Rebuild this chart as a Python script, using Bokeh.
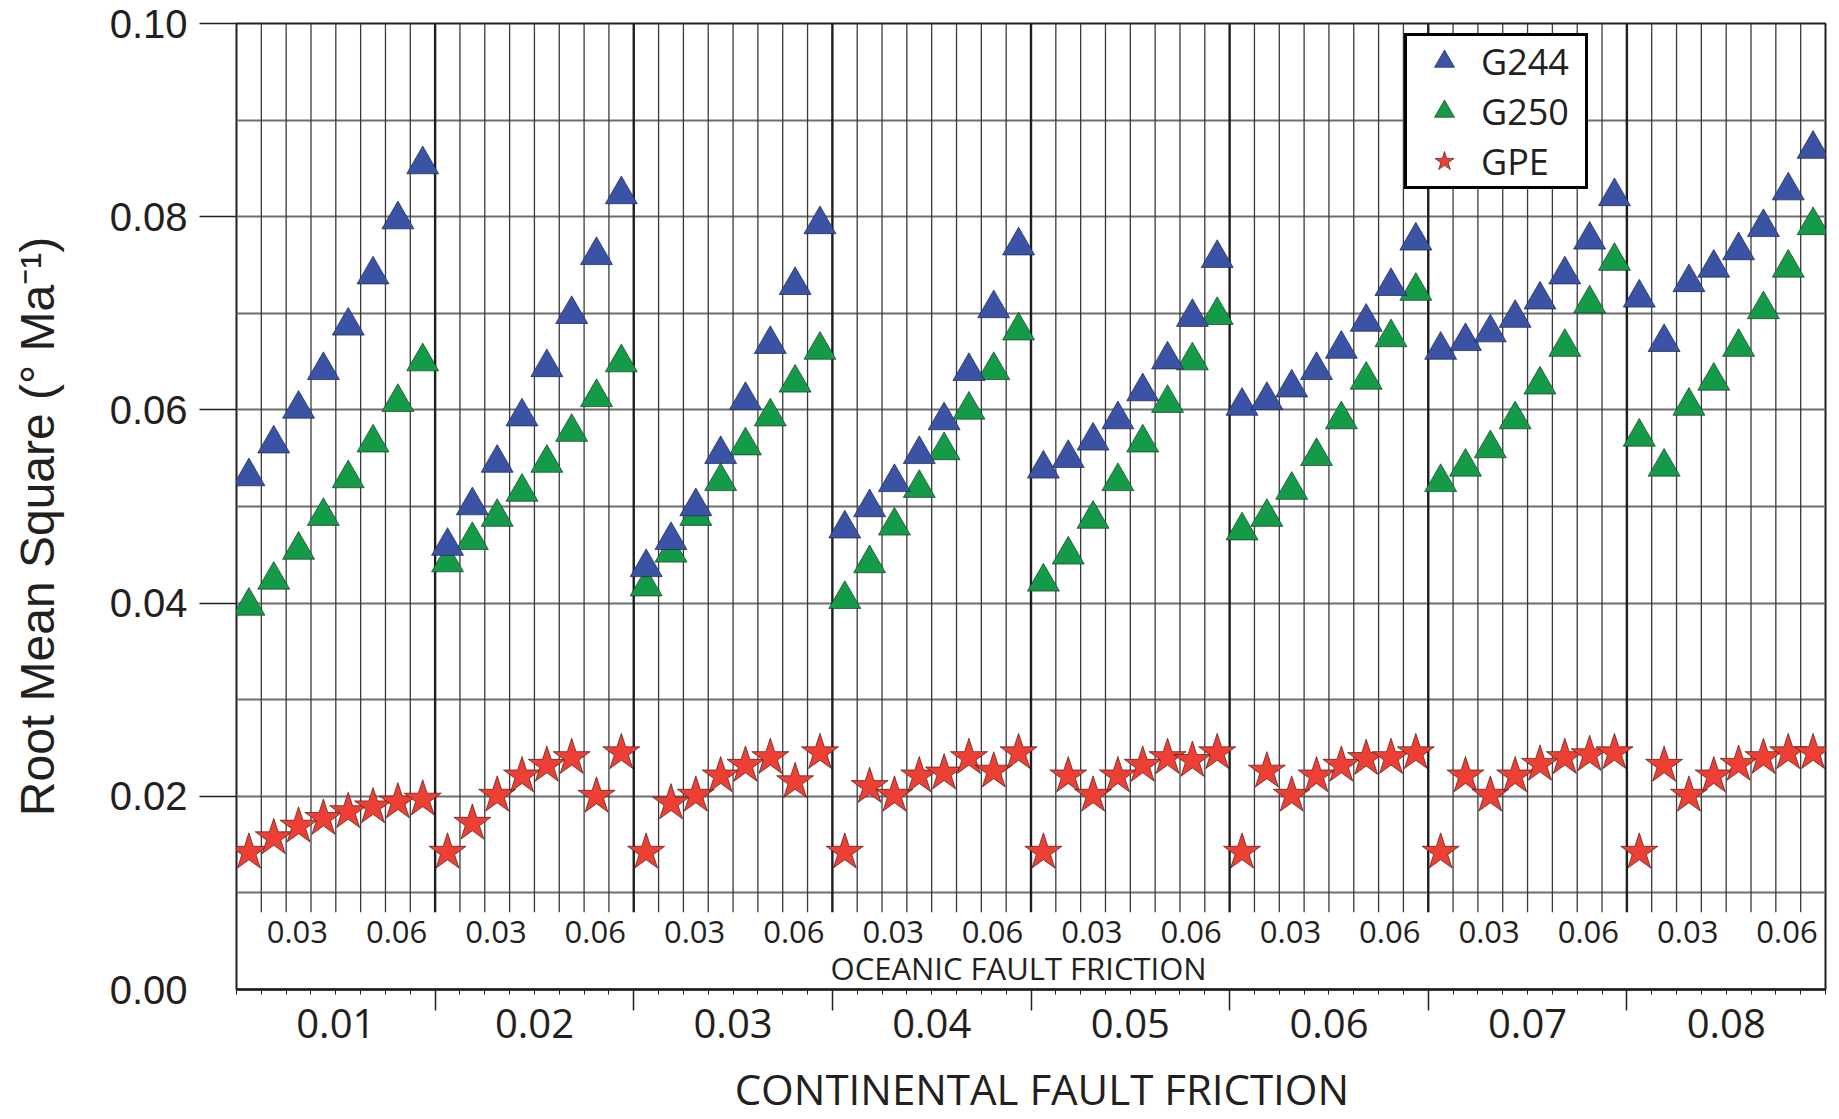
import math
from bokeh.plotting import figure
from bokeh.models import (Range1d, FixedTicker, LinearAxis, Legend, LegendItem, Label,
                          ColumnDataSource, PrintfTickFormatter)
from bokeh.core.properties import value
from bokeh.embed import file_html
from bokeh.resources import INLINE

# ---------------- data ----------------
continental_labels = ["0.01", "0.02", "0.03", "0.04", "0.05", "0.06", "0.07", "0.08"]
n_oceanic = 8                      # oceanic friction runs per continental value
oceanic_tick_labels = ["0.03", "0.06"]
oceanic_tick_slots = [2, 6]

g244 = [0.0531, 0.0565, 0.0601, 0.0641, 0.0687, 0.0740, 0.0797, 0.0854,
        0.0459, 0.0501, 0.0545, 0.0593, 0.0644, 0.0699, 0.0760, 0.0823,
        0.0437, 0.0465, 0.0500, 0.0554, 0.0610, 0.0668, 0.0729, 0.0792,
        0.0477, 0.0499, 0.0525, 0.0554, 0.0589, 0.0640, 0.0705, 0.0770,
        0.0539, 0.0550, 0.0568, 0.0590, 0.0619, 0.0652, 0.0696, 0.0757,
        0.0604, 0.0610, 0.0623, 0.0641, 0.0663, 0.0691, 0.0728, 0.0775,
        0.0662, 0.0671, 0.0680, 0.0695, 0.0714, 0.0740, 0.0776, 0.0821,
        0.0716, 0.0670, 0.0732, 0.0747, 0.0765, 0.0789, 0.0827, 0.0870]

g250 = [0.0397, 0.0424, 0.0455, 0.0490, 0.0529, 0.0566, 0.0608, 0.0650,
        0.0442, 0.0465, 0.0489, 0.0515, 0.0545, 0.0577, 0.0613, 0.0649,
        0.0417, 0.0452, 0.0490, 0.0526, 0.0563, 0.0593, 0.0628, 0.0662,
        0.0404, 0.0441, 0.0480, 0.0519, 0.0558, 0.0600, 0.0641, 0.0682,
        0.0422, 0.0450, 0.0487, 0.0526, 0.0566, 0.0607, 0.0651, 0.0698,
        0.0475, 0.0489, 0.0517, 0.0552, 0.0590, 0.0631, 0.0675, 0.0723,
        0.0525, 0.0541, 0.0560, 0.0590, 0.0626, 0.0665, 0.0710, 0.0754,
        0.0572, 0.0541, 0.0604, 0.0630, 0.0665, 0.0704, 0.0747, 0.0791]

gpe = [0.0142, 0.0157, 0.0169, 0.0177, 0.0184, 0.0189, 0.0194, 0.0197,
       0.0142, 0.0172, 0.0201, 0.0221, 0.0232, 0.0240, 0.0200, 0.0245,
       0.0142, 0.0193, 0.0201, 0.0221, 0.0232, 0.0240, 0.0215, 0.0245,
       0.0142, 0.0210, 0.0201, 0.0221, 0.0224, 0.0240, 0.0226, 0.0245,
       0.0142, 0.0221, 0.0201, 0.0221, 0.0232, 0.0240, 0.0237, 0.0245,
       0.0142, 0.0226, 0.0201, 0.0221, 0.0232, 0.0239, 0.0240, 0.0245,
       0.0142, 0.0221, 0.0201, 0.0221, 0.0233, 0.0240, 0.0243, 0.0245,
       0.0142, 0.0232, 0.0201, 0.0221, 0.0233, 0.0240, 0.0245, 0.0245]

y_ticks = [0.00, 0.02, 0.04, 0.06, 0.08, 0.10]
y_grid = [0.01, 0.02, 0.03, 0.04, 0.05, 0.06, 0.07, 0.08, 0.09]

# ---------------- derived positions ----------------
n_groups = len(continental_labels)
n_slots = n_groups * n_oceanic
xs = [g * n_oceanic + s + 0.5 for g in range(n_groups) for s in range(n_oceanic)]
bounds = list(range(n_slots + 1))
group_bounds = [g * n_oceanic for g in range(1, n_groups)]
inner_bounds = [b for b in bounds[1:-1] if b % n_oceanic != 0]
group_centers = [g * n_oceanic + n_oceanic / 2 for g in range(n_groups)]

INK = "#231f20"
NBSP = "\u00a0"

p = figure(width=1835, height=1119, output_backend="svg", toolbar_location=None,
           x_range=Range1d(0, n_slots), y_range=Range1d(0, 0.1),
           min_border_left=236, min_border_right=10, min_border_top=23,
           min_border_bottom=129)
p.background_fill_color = "white"
p.border_fill_color = "white"
p.outline_line_color = INK
p.outline_line_width = 2

p.xgrid.visible = False
p.ygrid.ticker = FixedTicker(ticks=y_grid)
p.ygrid.grid_line_color = "#6e6e6e"
p.ygrid.grid_line_width = 1.8

# vertical grid of oceanic slots and continental groups
gtop = 0.1
gbot = 0.008
p.segment(x0=inner_bounds, y0=[gbot] * len(inner_bounds), x1=inner_bounds,
          y1=[gtop] * len(inner_bounds), line_color="#3a3a3a", line_width=1.3)
p.segment(x0=group_bounds, y0=[gbot] * len(group_bounds), x1=group_bounds,
          y1=[gtop] * len(group_bounds), line_color="#1e1e1e", line_width=2.4)

src = ColumnDataSource(dict(x=xs, g244=g244, g250=g250, gpe=gpe))
r250 = p.scatter("x", "g250", source=src, marker="triangle", size=32,
                 fill_color="#139b48", line_color="#1e3b27", line_width=0.7)
r244 = p.scatter("x", "g244", source=src, marker="triangle", size=32,
                 fill_color="#3a53a4", line_color="#1c2553", line_width=0.7)
rgpe = p.scatter("x", "gpe", source=src, marker="star", size=39,
                 fill_color="#ee3f34", line_color="#4a1a17", line_width=0.7)

# oceanic friction labels inside the frame
ox, otext = [], []
for g in range(n_groups):
    for s, t in zip(oceanic_tick_slots, oceanic_tick_labels):
        ox.append(g * n_oceanic + s + 0.45)
        otext.append(t)
p.text(x=ox, y=[0.0060] * len(ox), text=otext, text_font=value("Open Sans"),
       text_font_size="31px", text_align="center", text_baseline="middle",
       text_color=INK)
p.add_layout(Label(x=n_slots / 2 - 0.5, y=0.0022, x_units="data", y_units="data",
                   text="OCEANIC FAULT FRICTION", text_font="Open Sans",
                   text_font_size="31px", text_align="center", text_baseline="middle",
                   text_color=INK))

# y axis (tick marks drawn as minor ticks so the 0.00 label has no mark)
ya = p.yaxis[0]
ya.ticker = FixedTicker(ticks=y_ticks, minor_ticks=y_ticks[1:])
ya.formatter = PrintfTickFormatter(format="%.2f")
ya.major_tick_out = 37
ya.major_tick_in = 0
ya.major_tick_line_color = None
ya.minor_tick_out = 37
ya.minor_tick_in = 0
ya.minor_tick_line_color = INK
ya.minor_tick_line_width = 1.5
ya.axis_line_color = None
ya.major_label_standoff = 12
ya.major_label_text_font = "Liberation Sans"
ya.major_label_text_font_size = "40px"
ya.major_label_text_color = INK
ya.axis_label = "Root Mean Square (° Ma⁻¹)" + NBSP * 3
ya.axis_label_text_font = "Liberation Sans"
ya.axis_label_text_font_size = "48px"
ya.axis_label_text_font_style = "normal"
ya.axis_label_text_color = INK
ya.axis_label_standoff = 43

# x axis: ticks
xa = p.xaxis[0]
xa.ticker = FixedTicker(ticks=group_bounds, minor_ticks=bounds)
xa.major_tick_out = 21
xa.major_tick_in = 0
xa.minor_tick_out = 5
xa.minor_tick_in = 0
xa.major_tick_line_color = INK
xa.minor_tick_line_color = INK
xa.major_tick_line_width = 1.5
xa.minor_tick_line_width = 1
xa.axis_line_color = INK
xa.axis_line_width = 2.5
xa.major_label_overrides = {b: "" for b in group_bounds}
xa.major_label_text_font_size = "2px"
xa.major_label_standoff = 0

# x axis: continental labels and title
xb = LinearAxis(ticker=FixedTicker(ticks=group_centers),
                major_label_overrides={c: lab for c, lab in zip(group_centers, continental_labels)})
xb.axis_line_color = None
xb.major_tick_line_color = None
xb.minor_tick_line_color = None
xb.major_tick_out = 0
xb.major_tick_in = 0
xb.major_label_standoff = -2
xb.major_label_text_font = "Open Sans"
xb.major_label_text_font_size = "40px"
xb.major_label_text_color = INK
xb.axis_label = NBSP * 2 + "CONTINENTAL FAULT FRICTION"
xb.axis_label_text_font = "Open Sans"
xb.axis_label_text_font_size = "42px"
xb.axis_label_text_font_style = "normal"
xb.axis_label_text_color = INK
xb.axis_label_standoff = 19
p.add_layout(xb, "below")

legend = Legend(items=[LegendItem(label="G244", renderers=[r244]),
                       LegendItem(label="G250", renderers=[r250]),
                       LegendItem(label="GPE", renderers=[rgpe])],
                location=(1168, 800), orientation="vertical",
                glyph_width=74, glyph_height=50, spacing=0, padding=0,
                label_standoff=0, label_width=104, margin=0,
                label_text_font="Open Sans", label_text_font_size="36px",
                label_text_color=INK, border_line_color="black", border_line_width=3,
                border_line_alpha=1.0,
                background_fill_color="white", background_fill_alpha=1.0)
p.add_layout(legend)

open("out.html", "w").write(file_html(p, INLINE))
